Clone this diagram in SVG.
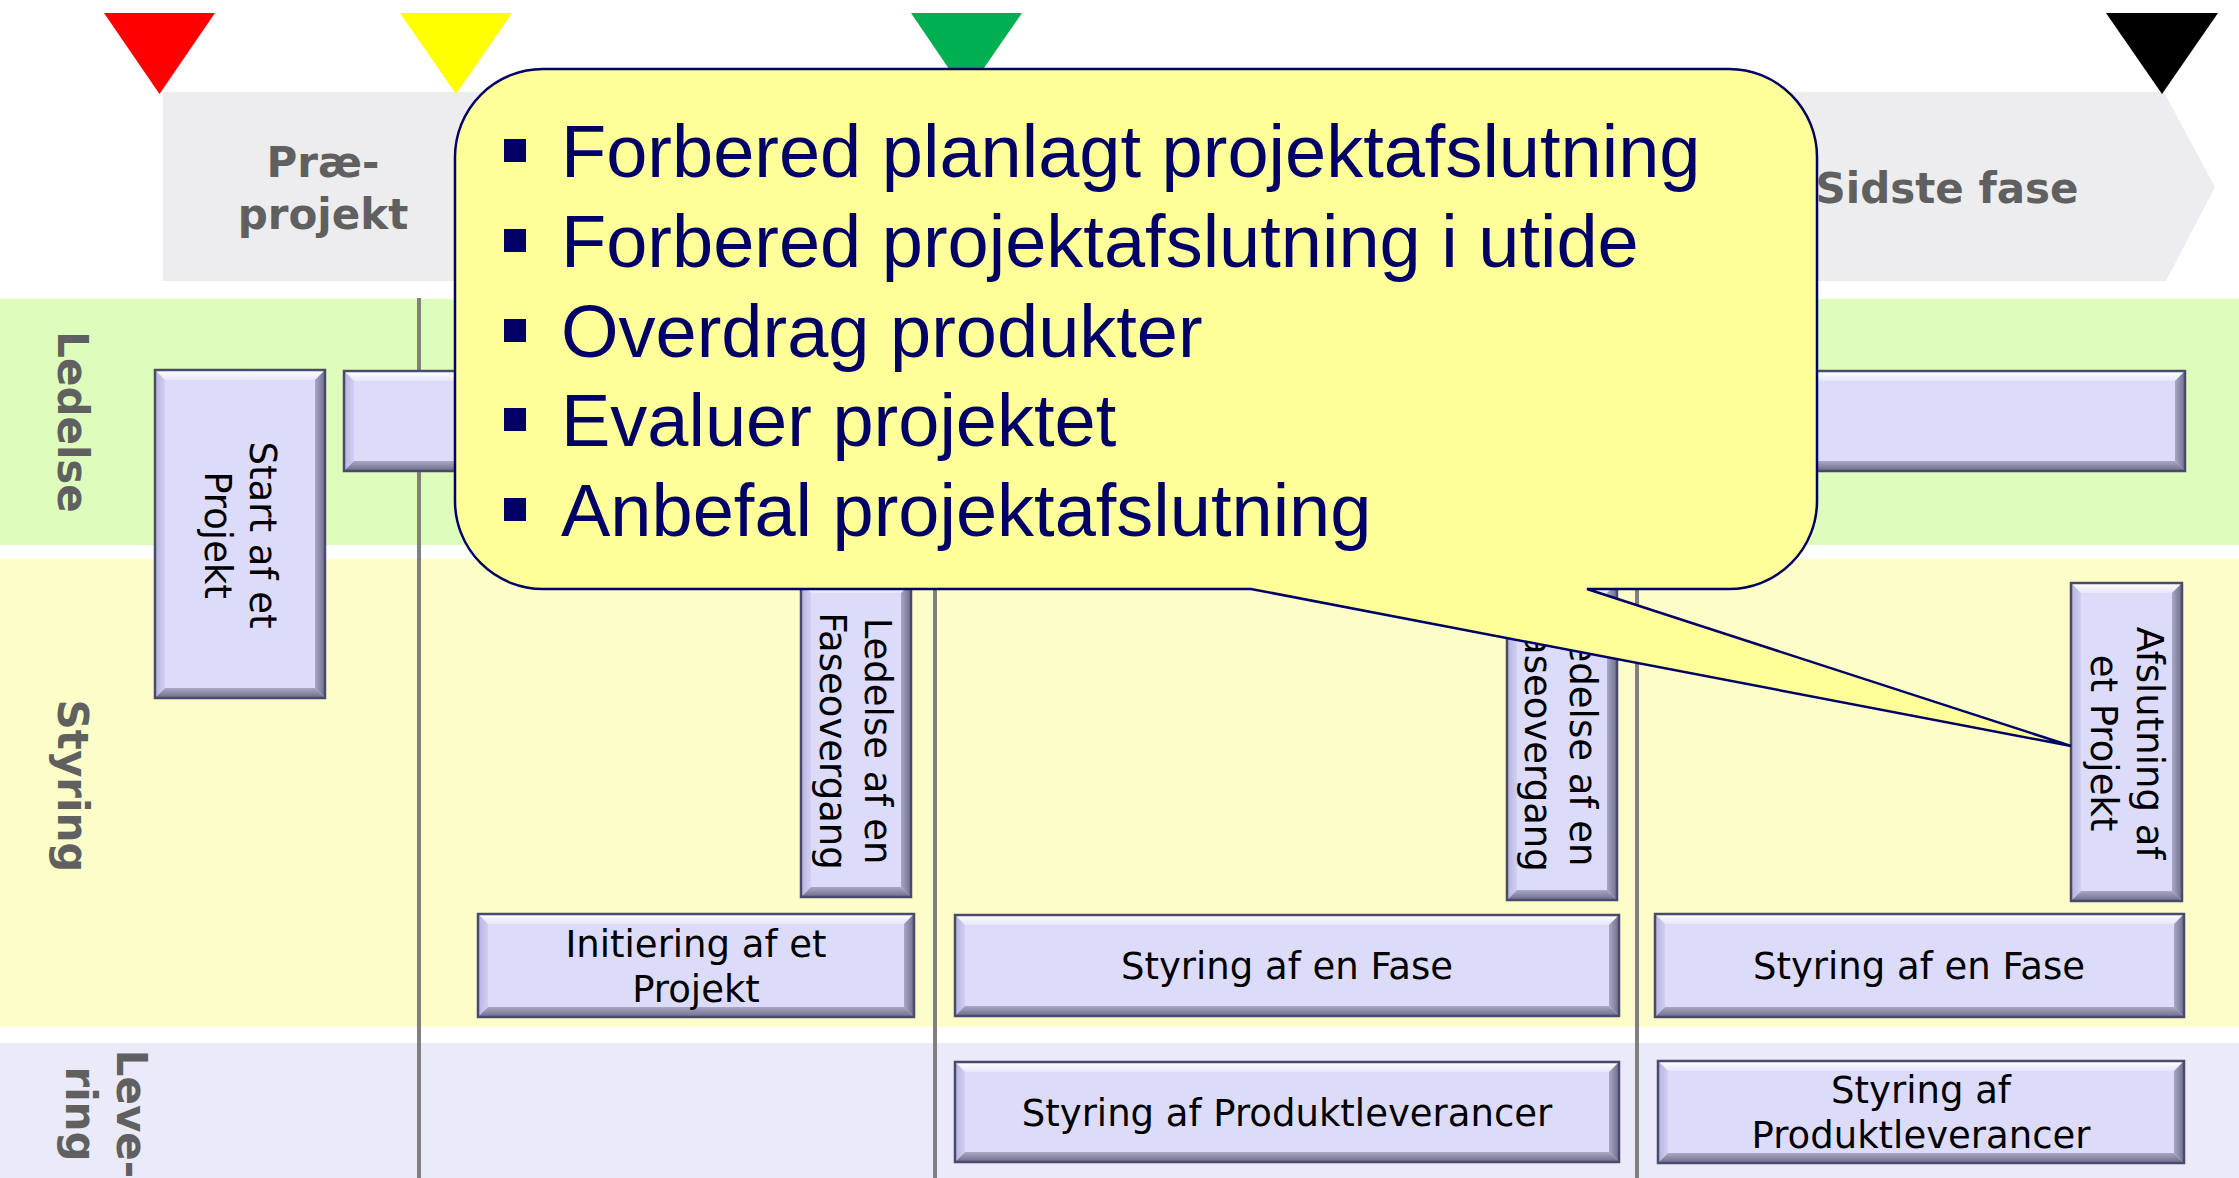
<svg xmlns="http://www.w3.org/2000/svg" width="2239" height="1178" viewBox="0 0 2239 1178">
<defs>
<linearGradient id="gTop" x1="0" y1="0" x2="0" y2="1"><stop offset="0" stop-color="#FFFFFF"/><stop offset="1" stop-color="#E6E6FB"/></linearGradient>
<linearGradient id="gBot" x1="0" y1="0" x2="0" y2="1"><stop offset="0" stop-color="#A8A8C6"/><stop offset="1" stop-color="#6C6C88"/></linearGradient>
<linearGradient id="gLeft" x1="0" y1="0" x2="1" y2="0"><stop offset="0" stop-color="#B4B4DE"/><stop offset="1" stop-color="#D0D0F4"/></linearGradient>
<linearGradient id="gRight" x1="0" y1="0" x2="1" y2="0"><stop offset="0" stop-color="#A6A6C6"/><stop offset="1" stop-color="#70708C"/></linearGradient>
</defs>
<style>
.face{fill:#DCDCFA}
.bvT{fill:url(#gTop)}
.bvB{fill:url(#gBot)}
.bvL{fill:url(#gLeft)}
.bvR{fill:url(#gRight)}
.frame{fill:none;stroke:#4A4A6E;stroke-width:2.5}
.lbl{font-family:"DejaVu Sans",Verdana,sans-serif;font-size:37px;fill:#000000;text-anchor:middle}
.lane{font-family:"DejaVu Sans",Verdana,sans-serif;font-weight:bold;font-size:42px;fill:#606060;text-anchor:middle}
.vline{stroke:#808080;stroke-width:4}
.bul{font-family:"Liberation Sans",Arial,sans-serif;font-size:74px;fill:#000066}
.sq{fill:#000066}
</style>

<g id="background">
  <rect x="0" y="299" width="2239" height="246" fill="#DEFDBD"/>
  <rect x="0" y="559" width="2239" height="468" fill="#FDFDC9"/>
  <rect x="0" y="1043" width="2239" height="135" fill="#EAEAF8"/>
  <polygon points="163,92 2164,92 2215,187 2166,281 163,281" fill="#EDEDEF"/>
</g>

<g id="milestones">
  <polygon points="104,13 215,13 159.5,94" fill="#FF0000"/>
  <polygon points="400,13 512,13 456,94" fill="#FFFF00"/>
  <polygon points="911,13 1022,13 966,94" fill="#00B050"/>
  <polygon points="2106,13 2218,13 2162,94" fill="#000000"/>
</g>

<g id="phase-labels">
  <text class="lane" x="323" y="177">Præ-<tspan x="323" dy="52">projekt</tspan></text>
  <text class="lane" x="1947" y="203">Sidste fase</text>
</g>

<g id="lane-labels">
  <text class="lane" transform="translate(58,422) rotate(90)">Ledelse</text>
  <text class="lane" transform="translate(58,786) rotate(90)">Styring</text>
  <text class="lane" transform="translate(117,1114) rotate(90)">Leve-<tspan x="0" dy="51">ring</tspan></text>
</g>

<g id="connectors">
  <line class="vline" x1="419" y1="298" x2="419" y2="1178"/>
  <line class="vline" x1="935" y1="298" x2="935" y2="1178"/>
  <line class="vline" x1="1637" y1="298" x2="1637" y2="1178"/>
</g>

<g id="start-af-et-projekt">
  <rect class="face" x="155" y="370" width="170" height="328"/>
  <polygon class="bvT" points="155,370 325,370 315,380 165,380"/>
  <polygon class="bvL" points="155,370 165,380 165,688 155,698"/>
  <polygon class="bvR" points="325,370 325,698 315,688 315,380"/>
  <polygon class="bvB" points="155,698 165,688 315,688 325,698"/>
  <rect class="frame" x="155" y="370" width="170" height="328"/>
  <text class="lbl" transform="translate(250,535) rotate(90)">Start af et<tspan x="0" dy="45">Projekt</tspan></text>
</g>

<g id="ledelse-af-et-projekt">
  <rect class="face" x="344" y="371" width="1841" height="100"/>
  <polygon class="bvT" points="344,371 2185,371 2175,381 354,381"/>
  <polygon class="bvL" points="344,371 354,381 354,461 344,471"/>
  <polygon class="bvR" points="2185,371 2185,471 2175,461 2175,381"/>
  <polygon class="bvB" points="344,471 354,461 2175,461 2185,471"/>
  <rect class="frame" x="344" y="371" width="1841" height="100"/>
</g>

<g id="ledelse-faseovergang-1">
  <rect class="face" x="801" y="583" width="110" height="314"/>
  <polygon class="bvT" points="801,583 911,583 901,593 811,593"/>
  <polygon class="bvL" points="801,583 811,593 811,887 801,897"/>
  <polygon class="bvR" points="911,583 911,897 901,887 901,593"/>
  <polygon class="bvB" points="801,897 811,887 901,887 911,897"/>
  <rect class="frame" x="801" y="583" width="110" height="314"/>
  <text class="lbl" transform="translate(865,741) rotate(90)">Ledelse af en<tspan x="0" dy="45">Faseovergang</tspan></text>
</g>

<g id="ledelse-faseovergang-2">
  <rect class="face" x="1507" y="583" width="110" height="317"/>
  <polygon class="bvT" points="1507,583 1617,583 1607,593 1517,593"/>
  <polygon class="bvL" points="1507,583 1517,593 1517,890 1507,900"/>
  <polygon class="bvR" points="1617,583 1617,900 1607,890 1607,593"/>
  <polygon class="bvB" points="1507,900 1517,890 1607,890 1617,900"/>
  <rect class="frame" x="1507" y="583" width="110" height="317"/>
  <text class="lbl" transform="translate(1570,743) rotate(90)">Ledelse af en<tspan x="0" dy="45">Faseovergang</tspan></text>
</g>

<g id="afslutning-af-et-projekt">
  <rect class="face" x="2071" y="583" width="111" height="318"/>
  <polygon class="bvT" points="2071,583 2182,583 2172,593 2081,593"/>
  <polygon class="bvL" points="2071,583 2081,593 2081,891 2071,901"/>
  <polygon class="bvR" points="2182,583 2182,901 2172,891 2172,593"/>
  <polygon class="bvB" points="2071,901 2081,891 2172,891 2182,901"/>
  <rect class="frame" x="2071" y="583" width="111" height="318"/>
  <text class="lbl" transform="translate(2137,743) rotate(90)">Afslutning af<tspan x="0" dy="46">et Projekt</tspan></text>
</g>

<g id="initiering-af-et-projekt">
  <rect class="face" x="478" y="914" width="436" height="103"/>
  <polygon class="bvT" points="478,914 914,914 904,924 488,924"/>
  <polygon class="bvL" points="478,914 488,924 488,1007 478,1017"/>
  <polygon class="bvR" points="914,914 914,1017 904,1007 904,924"/>
  <polygon class="bvB" points="478,1017 488,1007 904,1007 914,1017"/>
  <rect class="frame" x="478" y="914" width="436" height="103"/>
  <text class="lbl" x="696" y="957">Initiering af et<tspan x="696" dy="45">Projekt</tspan></text>
</g>

<g id="styring-af-en-fase-1">
  <rect class="face" x="955" y="915" width="664" height="101"/>
  <polygon class="bvT" points="955,915 1619,915 1609,925 965,925"/>
  <polygon class="bvL" points="955,915 965,925 965,1006 955,1016"/>
  <polygon class="bvR" points="1619,915 1619,1016 1609,1006 1609,925"/>
  <polygon class="bvB" points="955,1016 965,1006 1609,1006 1619,1016"/>
  <rect class="frame" x="955" y="915" width="664" height="101"/>
  <text class="lbl" x="1287" y="979">Styring af en Fase</text>
</g>

<g id="styring-af-produktleverancer-1">
  <rect class="face" x="955" y="1062" width="664" height="100"/>
  <polygon class="bvT" points="955,1062 1619,1062 1609,1072 965,1072"/>
  <polygon class="bvL" points="955,1062 965,1072 965,1152 955,1162"/>
  <polygon class="bvR" points="1619,1062 1619,1162 1609,1152 1609,1072"/>
  <polygon class="bvB" points="955,1162 965,1152 1609,1152 1619,1162"/>
  <rect class="frame" x="955" y="1062" width="664" height="100"/>
  <text class="lbl" x="1287" y="1126">Styring af Produktleverancer</text>
</g>

<g id="styring-af-en-fase-2">
  <rect class="face" x="1655" y="914" width="529" height="103"/>
  <polygon class="bvT" points="1655,914 2184,914 2174,924 1665,924"/>
  <polygon class="bvL" points="1655,914 1665,924 1665,1007 1655,1017"/>
  <polygon class="bvR" points="2184,914 2184,1017 2174,1007 2174,924"/>
  <polygon class="bvB" points="1655,1017 1665,1007 2174,1007 2184,1017"/>
  <rect class="frame" x="1655" y="914" width="529" height="103"/>
  <text class="lbl" x="1919" y="979">Styring af en Fase</text>
</g>

<g id="styring-af-produktleverancer-2">
  <rect class="face" x="1658" y="1061" width="526" height="102"/>
  <polygon class="bvT" points="1658,1061 2184,1061 2174,1071 1668,1071"/>
  <polygon class="bvL" points="1658,1061 1668,1071 1668,1153 1658,1163"/>
  <polygon class="bvR" points="2184,1061 2184,1163 2174,1153 2174,1071"/>
  <polygon class="bvB" points="1658,1163 1668,1153 2174,1153 2184,1163"/>
  <rect class="frame" x="1658" y="1061" width="526" height="102"/>
  <text class="lbl" x="1921" y="1103">Styring af<tspan x="1921" dy="45">Produktleverancer</tspan></text>
</g>

<g id="callout">
  <path d="M543,69 H1729 A88,88 0 0 1 1817,157 V501 A88,88 0 0 1 1729,589 H1587 L2071,746 L1251,589 H543 A88,88 0 0 1 455,501 V157 A88,88 0 0 1 543,69 Z" fill="#FFFF99" stroke="#000066" stroke-width="2.5" stroke-linejoin="miter"/>
  <rect class="sq" x="504" y="139" width="22" height="23"/>
  <rect class="sq" x="504" y="229" width="22" height="23"/>
  <rect class="sq" x="504" y="319" width="22" height="23"/>
  <rect class="sq" x="504" y="408" width="22" height="23"/>
  <rect class="sq" x="504" y="498" width="22" height="23"/>
  <text class="bul" x="561" y="177">Forbered planlagt projektafslutning</text>
  <text class="bul" x="561" y="267">Forbered projektafslutning i utide</text>
  <text class="bul" x="561" y="357">Overdrag produkter</text>
  <text class="bul" x="561" y="446">Evaluer projektet</text>
  <text class="bul" x="561" y="536">Anbefal projektafslutning</text>
</g>
</svg>
